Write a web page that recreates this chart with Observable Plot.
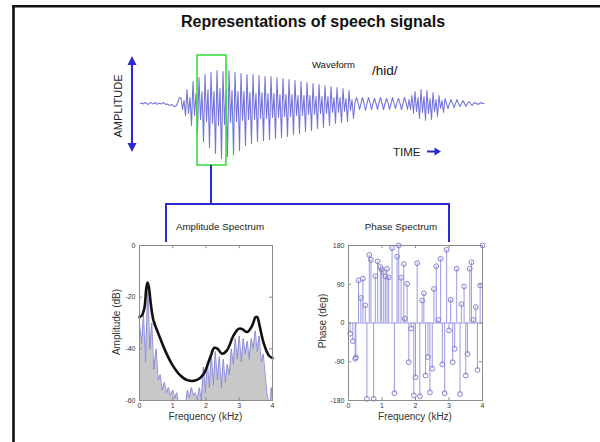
<!DOCTYPE html>
<html>
<head>
<meta charset="utf-8">
<script src="https://cdn.jsdelivr.net/npm/d3@7"></script>
<script src="https://cdn.jsdelivr.net/npm/@observablehq/plot@0.6"></script>
<style>
html, body { margin: 0; padding: 0; background: #fff; }
#root { position: relative; width: 600px; height: 442px; overflow: hidden; background: #fff;
        font-family: "Liberation Sans", Arial, Helvetica, sans-serif; }
</style>
</head>
<body>
<div id="root"></div>
<script>
// ---------- DATA ----------
// Speech waveform /hid/ (amplitude samples)
const waveOnset = [0,0.5,-0.5,1,0,-1,0.5,1,-0.5,0,1,-1,0.5,0,-0.5,1,0,-1,-0.5,-1.5,-2,-1,-2.5,-3,-2,2,6];
const waveVowel = [
  6,-6,3,-12, 14,-10,6,-22, 22,-12,10,-30, 26,-16,12,-38, 29,-18,14,-44,
  31,-20,12,-50, 33,-22,15,-55, 32,-21,14,-53, 33,-19,13,-51, 31,-18,12,-47,
  30,-17,12,-42, 29,-16,11,-40, 29,-16,10,-38, 28,-15,11,-37, 27,-15,10,-36,
  27,-14,10,-35, 26,-14,9,-34, 25,-13,9,-33, 24,-13,9,-31, 23,-12,8,-30,
  22,-12,8,-28, 21,-11,8,-27, 20,-11,7,-25, 19,-10,7,-24, 18,-10,7,-22,
  17,-9,6,-20, 16,-9,6,-19, 15,-8,5,-18, 13,-7,4,-15
];
const waveClosure = [1,6,1,-6, 0,6,0,-7, 0,6,1,-6, 0,5,0,-6, 1,6,0,-6, 0,5,1,-6, 0,6,0,-5, 1,5,0,-6, 0,6,1,-6];
const waveBurst = [4,-6,8,-10, 12,-8,6,-15, 14,-9,7,-17, 13,-10,5,-16, 11,-8,4,-13, 8,-5,3,-9];
const waveTail = [5,0,-5,0, 4,0,-4,0, 4,0,-3,0, 3,0,-3,0, 2,0,-2,0, 1,0,-1,0, 1,0,0];
const wave = [...waveOnset, ...waveVowel, ...waveClosure, ...waveBurst, ...waveTail];

// Amplitude spectrum (harmonics), kHz / dB
const specFreq = [0,0.06,0.12,0.18,0.25,0.31,0.37,0.43,0.5,0.56,0.62,0.68,0.75,0.81,0.87,0.93,1.0,1.06,1.12,1.16,1.4,1.44,1.5,1.56,1.62,1.68,1.74,1.8,1.86,1.92,1.98,2.04,2.1,2.16,2.22,2.28,2.34,2.4,2.46,2.52,2.58,2.64,2.7,2.76,2.82,2.88,2.94,3.0,3.06,3.12,3.18,3.24,3.3,3.36,3.42,3.48,3.54,3.6,3.66,3.72,3.78,3.84,3.88,3.94,3.96,4.0];
const specDb   = [-30,-38,-27,-45,-15,-40,-30,-48,-40,-52,-50,-56,-53,-57,-55,-58,-56,-59,-57,-60,-60,-56,-59,-55,-58,-57,-60,-55,-60,-47,-57,-45,-55,-42,-54,-41,-52,-43,-55,-44,-53,-46,-50,-40,-46,-36,-44,-35,-45,-36,-42,-37,-44,-36,-40,-33,-41,-35,-45,-42,-50,-58,-60,-60,-55,-60];
// Spectral envelope
const envFreq = [0,0.07,0.15,0.2,0.24,0.28,0.34,0.42,0.57,0.77,0.97,1.23,1.48,1.73,1.93,2.13,2.25,2.35,2.48,2.63,2.83,2.98,3.08,3.24,3.39,3.49,3.54,3.62,3.74,3.89,4.0];
const envDb   = [-27.7,-27.1,-24,-17,-14.3,-16,-22.6,-29,-34.2,-40.6,-45.8,-50.3,-52.3,-52,-49.7,-43.2,-39.6,-40,-41.9,-40.6,-34.8,-32.3,-32.3,-33.5,-31,-27.7,-27.7,-31.6,-38,-42.6,-43.6];

// Phase spectrum, kHz / degrees
const phaseFreq = [0.05,0.13,0.2,0.22,0.3,0.37,0.43,0.5,0.55,0.62,0.67,0.75,0.8,0.87,0.95,0.99,1.05,1.1,1.15,1.2,1.3,1.37,1.45,1.5,1.57,1.65,1.68,1.75,1.8,1.87,1.95,2.0,2.05,2.13,2.2,2.25,2.3,2.37,2.43,2.5,2.55,2.62,2.68,2.75,2.8,2.87,2.93,3.0,3.05,3.11,3.17,3.23,3.33,3.37,3.45,3.5,3.55,3.62,3.67,3.73,3.8,3.85,3.93,4.0];
const phaseDeg  = [-25,-42,-83,-80,99,58,103,41,-176,158,147,-176,109,143,130,124,118,108,126,106,174,-163,154,180,105,137,10,91,-91,-13,-168,-126,139,-170,52,69,-122,-79,-161,-106,79,132,7,149,-96,-163,170,-17,54,-91,-60,126,-165,44,85,-122,-72,126,141,7,37,-109,87,180];

// Tick labels
const freqTicks = [0,1,2,3,4];
const ampTicks = [0,-20,-40,-60];
const phaseTicks = [180,90,0,-90,-180];

// Texts
const titleText = "Representations of speech signals";
const ampTitle = "Amplitude Spectrum";
const phaseTitle = "Phase Spectrum";

// ---------- DRAW ----------
const root = document.getElementById("root");
const FONT = '"Liberation Sans", Arial, Helvetica, sans-serif';
const lav = "#9a9ae2";
const lavDark = "#8282d2";
const axisGray = "#8c8c8c";

function layer(opts) {
  const el = Plot.plot({
    width: 600, height: 442, ...opts,
    style: {position: "absolute", left: "0px", top: "0px", background: "transparent",
            fontFamily: FONT, fontSize: "7px", color: "#333", overflow: "visible"}
  });
  root.appendChild(el);
}

// Waveform
layer({
  margin: 0,
  x: {domain: [0, wave.length - 1], range: [140, 140 + (wave.length - 1) * 1.5], axis: null},
  y: {domain: [-60, 60], range: [163, 43], axis: null},
  marks: [
    Plot.lineY(wave, {stroke: "#6464d4", strokeWidth: 1.05, strokeOpacity: 0.9})
  ]
});

// Amplitude spectrum
const spec = specFreq.map((f, i) => ({f, db: specDb[i]}));
const env = envFreq.map((f, i) => ({f, db: envDb[i]}));
const fmt = d => String(d);
layer({
  marginLeft: 139, marginRight: 328, marginTop: 245, marginBottom: 42,
  x: {domain: [0, 4]},
  y: {domain: [-60, 0]},
  marks: [
    Plot.areaY(spec, {x: "f", y1: -60, y2: "db", fill: "#c8c8c8"}),
    Plot.line(spec, {x: "f", y: "db", stroke: "#8484dc", strokeWidth: 0.9}),
    Plot.line(env, {x: "f", y: "db", stroke: "#111", strokeWidth: 2.6, curve: "catmull-rom"}),
    Plot.frame({stroke: axisGray}),
    Plot.ruleX(freqTicks, {y1: -60, y2: -58.8, stroke: axisGray}),
    Plot.ruleX(freqTicks, {y1: 0, y2: -1.2, stroke: axisGray}),
    Plot.ruleY(ampTicks, {x1: 0, x2: 0.09, stroke: axisGray}),
    Plot.ruleY(ampTicks, {x1: 3.91, x2: 4, stroke: axisGray}),
    Plot.axisX(freqTicks, {tickSize: 0, tickPadding: 3, label: null, tickFormat: fmt}),
    Plot.axisY(ampTicks, {tickSize: 0, tickPadding: 4, label: null, tickFormat: fmt})
  ]
});

// Phase spectrum
const phase = phaseFreq.map((f, i) => ({f, p: phaseDeg[i]}));
layer({
  marginLeft: 348, marginRight: 118, marginTop: 245, marginBottom: 42,
  x: {domain: [0, 4]},
  y: {domain: [-180, 180]},
  marks: [
    Plot.ruleY([0], {stroke: lav}),
    Plot.ruleX(phase, {x: "f", y1: 0, y2: "p", stroke: lav, strokeWidth: 1}),
    Plot.dot(phase, {x: "f", y: "p", r: 2.4, stroke: lavDark, fill: "none", strokeWidth: 1}),
    Plot.frame({stroke: axisGray}),
    Plot.ruleX(freqTicks, {y1: -180, y2: -173, stroke: axisGray}),
    Plot.ruleX(freqTicks, {y1: 180, y2: 173, stroke: axisGray}),
    Plot.ruleY(phaseTicks, {x1: 0, x2: 0.09, stroke: axisGray}),
    Plot.ruleY(phaseTicks, {x1: 3.91, x2: 4, stroke: axisGray}),
    Plot.axisX(freqTicks, {tickSize: 0, tickPadding: 3, label: null, tickFormat: fmt}),
    Plot.axisY(phaseTicks, {tickSize: 0, tickPadding: 4, label: null, tickFormat: fmt})
  ]
});

// Annotation overlay
const svg = d3.select(root).append("svg")
  .attr("width", 600).attr("height", 442)
  .style("position", "absolute").style("left", "0px").style("top", "0px")
  .style("font-family", FONT);

// page frame (top + left)
svg.append("path").attr("d", "M12,6.2H600M13.5,5V442").attr("stroke", "#111").attr("fill", "none")
  .attr("stroke-width", 2.6);

svg.append("text").attr("x", 313).attr("y", 27).attr("text-anchor", "middle")
  .attr("font-size", 16).attr("font-weight", "bold").attr("fill", "#111").text(titleText);

const blue = "#2a2ad0";
// amplitude arrow
svg.append("line").attr("x1", 132).attr("x2", 132).attr("y1", 62).attr("y2", 146)
  .attr("stroke", blue).attr("stroke-width", 2);
svg.append("path").attr("d", "M132,56L127.5,65H136.5ZM132,152L127.5,143H136.5Z").attr("fill", blue);
svg.append("text").attr("transform", "translate(122,106) rotate(-90)").attr("text-anchor", "middle")
  .attr("font-size", 11).attr("fill", "#222").text("AMPLITUDE");

svg.append("text").attr("x", 312).attr("y", 68).attr("font-size", 9.5).attr("fill", "#111").text("Waveform");
svg.append("text").attr("x", 372).attr("y", 75).attr("font-size", 13.5).attr("fill", "#111").text("/hid/");

svg.append("text").attr("x", 393).attr("y", 156).attr("font-size", 11.5).attr("fill", "#222").text("TIME");
svg.append("path").attr("d", "M427,151.5H436").attr("stroke", blue).attr("stroke-width", 2);
svg.append("path").attr("d", "M441,151.5L434.5,147.5V155.5Z").attr("fill", blue);

// analysis window
svg.append("rect").attr("x", 197).attr("y", 55).attr("width", 29).attr("height", 110)
  .attr("fill", "none").attr("stroke", "#3cdc3c").attr("stroke-width", 1.6);

// connector
svg.append("path").attr("d", "M211,165V204M165,204H450M166,203V242M449,203V242")
  .attr("stroke", blue).attr("stroke-width", 2).attr("fill", "none");

svg.append("text").attr("x", 220).attr("y", 230).attr("text-anchor", "middle")
  .attr("font-size", 9.8).attr("fill", "#222").text(ampTitle);
svg.append("text").attr("x", 401).attr("y", 230).attr("text-anchor", "middle")
  .attr("font-size", 9.8).attr("fill", "#222").text(phaseTitle);

// axis titles
svg.append("text").attr("transform", "translate(120,322) rotate(-90)").attr("text-anchor", "middle")
  .attr("font-size", 10).attr("fill", "#333").text("Amplitude (dB)");
svg.append("text").attr("transform", "translate(326,321) rotate(-90)").attr("text-anchor", "middle")
  .attr("font-size", 10).attr("fill", "#333").text("Phase (deg)");
svg.append("text").attr("x", 205.5).attr("y", 420).attr("text-anchor", "middle")
  .attr("font-size", 10).attr("fill", "#333").text("Frequency (kHz)");
svg.append("text").attr("x", 415).attr("y", 420).attr("text-anchor", "middle")
  .attr("font-size", 10).attr("fill", "#333").text("Frequency (kHz)");
</script>
</body>
</html>
